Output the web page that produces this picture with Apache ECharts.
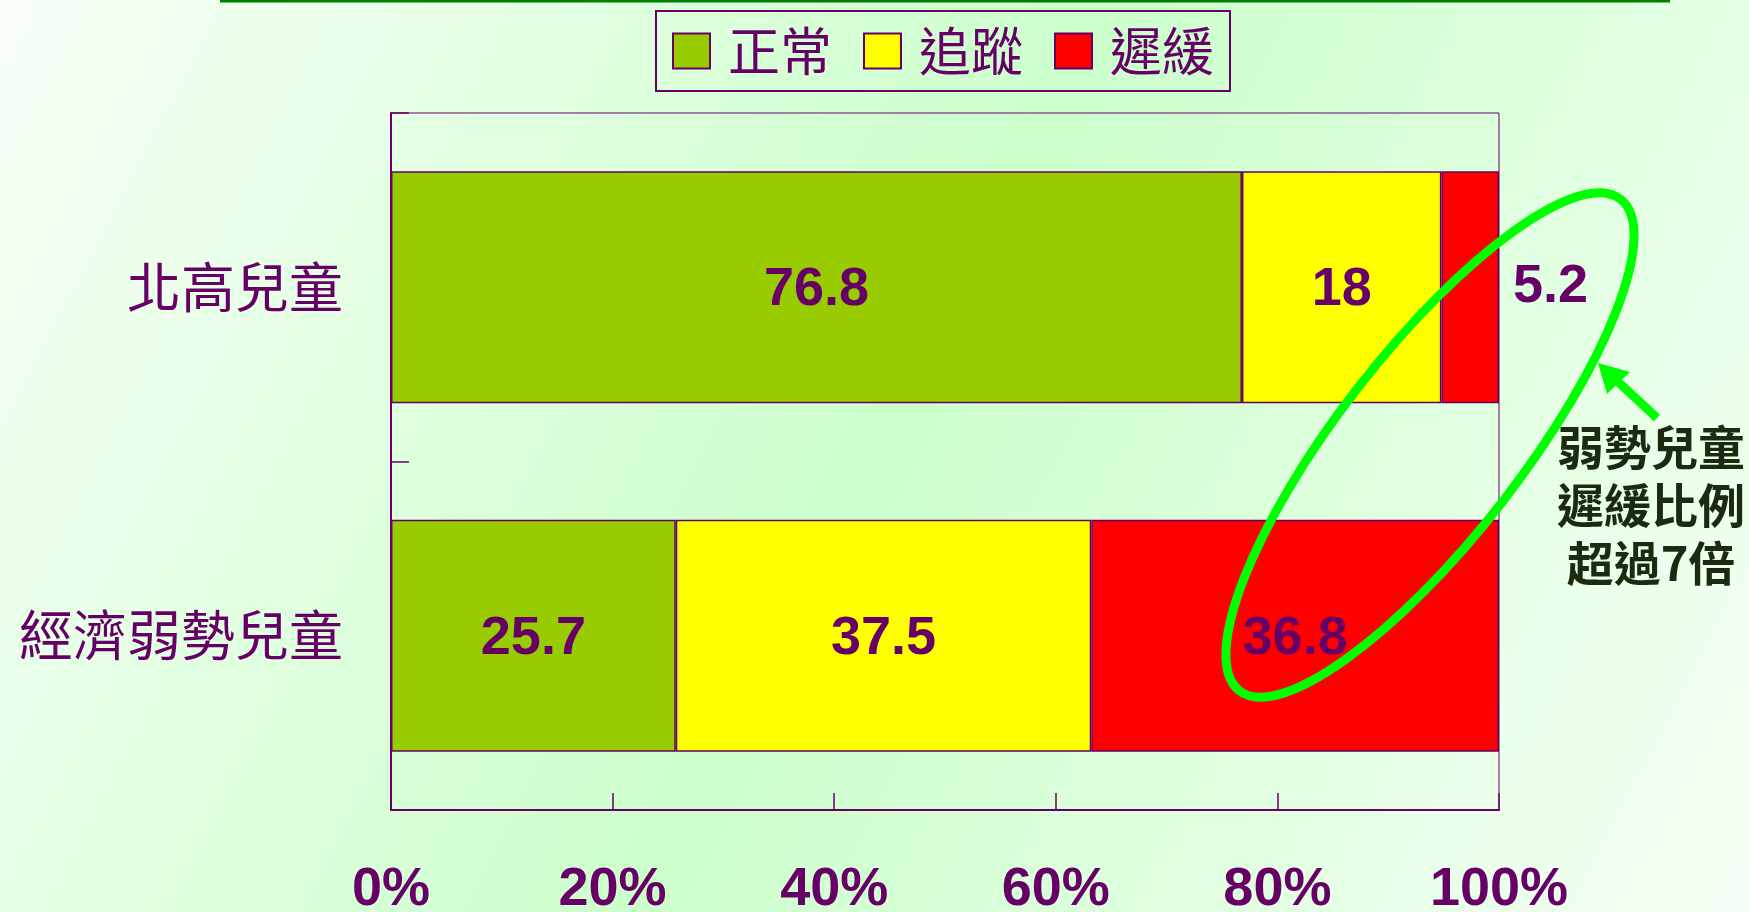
<!DOCTYPE html>
<html>
<head>
<meta charset="utf-8">
<script src="https://cdn.jsdelivr.net/npm/echarts@6/dist/echarts.min.js"></script>
<style>
html,body{margin:0;padding:0;}
#chart{width:1749px;height:912px;}
</style>
</head>
<body>
<div id="chart"></div>
<script>
// ---- data ----
var categories = ['北高兒童', '經濟弱勢兒童'];
var seriesNames = ['正常', '追蹤', '遲緩'];
var normalValues = [76.8, 25.7];
var trackValues = [18, 37.5];
var delayValues = [5.2, 36.8];
var xTicks = [0, 20, 40, 60, 80, 100];
var noteLines = ['弱勢兒童', '遲緩比例', '超過7倍'];

var purple = '#660066';
var colors = ['#99cc00', '#ffff00', '#ff0000'];

var chart = echarts.init(document.getElementById('chart'));

function barSeries(name, values, color, special) {
  return {
    name: name,
    type: 'bar',
    stack: 'total',
    barWidth: '66.5%',
    itemStyle: { color: color, borderColor: purple, borderWidth: 1.5 },
    label: {
      show: true,
      position: 'inside',
      offset: [0, 3],
      color: purple,
      fontFamily: 'Liberation Sans, Arial, sans-serif',
      fontWeight: 'bold',
      fontSize: 54
    },
    data: values.map(function (v, i) {
      if (special && special[i]) {
        return { value: v, label: special[i] };
      }
      return v;
    })
  };
}

var noteGraphics = noteLines.map(function (t, i) {
  return {
    type: 'text',
    z: 100,
    x: 1651,
    y: 447 + i * 58,
    style: {
      text: t,
      fill: '#1c2a10',
      font: 'bold 47px "Noto Sans CJK TC", sans-serif',
      textAlign: 'center',
      textVerticalAlign: 'middle'
    }
  };
});

var option = {
  backgroundColor: {
    type: 'linear', x: 0, y: 0, x2: 1, y2: 1,
    colorStops: [
      { offset: 0, color: '#f8fff8' },
      { offset: 0.5, color: '#ccffcc' },
      { offset: 1, color: '#f6fff6' }
    ]
  },
  animation: false,
  color: colors,
  legend: {
    data: seriesNames,
    left: 656,
    top: 11,
    padding: [10, 16, 10, 16],
    borderColor: purple,
    borderWidth: 2,
    itemWidth: 37,
    itemHeight: 35,
    itemGap: 31,
    icon: 'rect',
    itemStyle: { borderColor: purple, borderWidth: 2 },
    textStyle: {
      color: purple,
      fontSize: 52,
      fontFamily: '"Noto Sans CJK TC", sans-serif',
      lineHeight: 60,
      padding: [0, 0, 0, 13]
    }
  },
  grid: {
    left: 391,
    top: 113,
    width: 1108,
    height: 697,
    containLabel: false,
    outerBoundsMode: 'none',
    show: true,
    borderColor: purple,
    borderWidth: 1,
    backgroundColor: 'transparent'
  },
  xAxis: {
    type: 'value',
    min: xTicks[0],
    max: xTicks[xTicks.length - 1],
    interval: xTicks[1] - xTicks[0],
    axisLine: { show: true, lineStyle: { color: purple, width: 2 } },
    axisTick: { show: true, inside: true, length: 17, lineStyle: { color: purple, width: 1.5 } },
    splitLine: { show: false },
    axisLabel: {
      formatter: '{value}%',
      color: purple,
      fontFamily: 'Liberation Sans, Arial, sans-serif',
      fontWeight: 'bold',
      fontSize: 54,
      margin: 53
    }
  },
  yAxis: {
    type: 'category',
    inverse: true,
    data: categories,
    axisLine: { show: true, lineStyle: { color: purple, width: 2 } },
    axisTick: { show: true, inside: true, length: 18, lineStyle: { color: purple, width: 1.5 } },
    axisLabel: {
      color: purple,
      fontFamily: '"Noto Sans CJK TC", sans-serif',
      fontSize: 54,
      margin: 48
    }
  },
  series: [
    barSeries(seriesNames[0], normalValues, colors[0]),
    barSeries(seriesNames[1], trackValues, colors[1]),
    barSeries(seriesNames[2], delayValues, colors[2], [{ position: 'right', distance: 14, offset: [0, 0] }, null])
  ],
  graphic: [
    {
      type: 'line', z: 100,
      shape: { x1: 220, y1: 1, x2: 1670, y2: 1 },
      style: { stroke: '#008000', lineWidth: 3 }
    },
    {
      type: 'ellipse', z: 100,
      x: 1430, y: 445,
      rotation: 52.2 * Math.PI / 180,
      shape: { cx: 0, cy: 0, rx: 311, ry: 92 },
      style: { fill: 'none', stroke: '#00ff00', lineWidth: 9 }
    },
    {
      type: 'line', z: 100,
      shape: { x1: 1657, y1: 418, x2: 1615, y2: 379 },
      style: { stroke: '#00ff00', lineWidth: 9 }
    },
    {
      type: 'polygon', z: 100,
      shape: { points: [[1598, 363], [1607, 394], [1630, 372]] },
      style: { fill: '#00ff00' }
    }
  ].concat(noteGraphics)
};

chart.setOption(option);
</script>
</body>
</html>
